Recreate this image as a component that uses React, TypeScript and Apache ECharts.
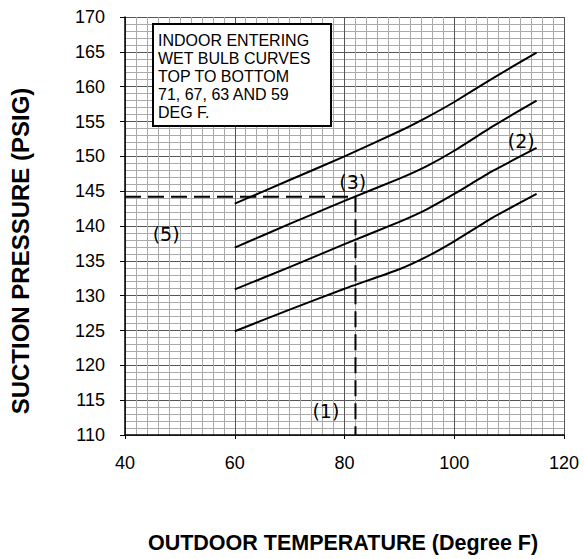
import React, { useEffect, useRef } from "react";
import * as echarts from "echarts";

// Outdoor temperature (deg F) vs suction pressure (psig) for four indoor wet bulb temps
const curveNames = ["71", "67", "63", "59"];
const wb71 = [[60, 143.2], [70, 146.6], [80, 150.0], [90, 153.6], [95, 155.6], [100, 157.8], [107, 161.2], [115, 164.9]];
const wb67 = [[60, 136.9], [70, 140.3], [80, 143.6], [90, 146.8], [95, 148.6], [100, 150.8], [107, 154.3], [115, 158.0]];
const wb63 = [[60, 130.9], [70, 134.1], [80, 137.4], [90, 140.6], [95, 142.4], [100, 144.6], [107, 147.9], [115, 151.2]];
const wb59 = [[60, 124.9], [70, 128.0], [80, 131.0], [90, 133.8], [95, 135.6], [100, 137.8], [107, 141.2], [115, 144.6]];
const curves = [wb71, wb67, wb63, wb59];

const xMin = 40, xMax = 120, xStep = 20;
const yMin = 110, yMax = 170, yStep = 5;

// example reading
const readTemp = 82;
const readPressure = 144.2;

const calloutText = ["(1)", "(2)", "(3)", "(5)"];
const calloutX = [76.6, 112.2, 81.5, 47.5];
const calloutY = [113.5, 152.2, 146.3, 138.8];

const noteLines = ["INDOOR ENTERING", "WET BULB CURVES", "TOP TO BOTTOM", "71, 67, 63 AND 59", "DEG F."];
const xTitle = "OUTDOOR TEMPERATURE (Degree F)";
const yTitle = "SUCTION PRESSURE (PSIG)";

export default function App() {
  const ref = useRef<HTMLDivElement>(null);
  useEffect(() => {
    if (!ref.current) return;
    const chart = echarts.init(ref.current, null, { renderer: "svg" });
    const series: any[] = curves.map((d, i) => ({
      name: curveNames[i],
      type: "line",
      data: d,
      symbol: "none",
      smooth: 0.15,
      lineStyle: { color: "#000", width: 2 },
      z: 5,
    }));
    series.push({
      name: "reading",
      type: "line",
      data: [[xMin, readPressure], [readTemp, readPressure], [readTemp, yMin]],
      symbol: "none",
      lineStyle: { color: "#000", width: 2, type: [16, 7] },
      z: 4,
    });
    series.push({
      name: "callouts",
      type: "scatter",
      symbolSize: 1,
      itemStyle: { opacity: 1, color: "rgba(0,0,0,0)" },
      data: calloutText.map((t, i) => ({ name: t, value: [calloutX[i], calloutY[i]] })),
      label: {
        show: true,
        position: "inside",
        formatter: (p: any) => p.name,
        fontFamily: "DejaVu Sans",
        fontSize: 19,
        color: "#000",
        opacity: 1,
      },
      emphasis: { disabled: true },
      z: 6,
    });
    chart.setOption({
      animation: false,
      backgroundColor: "#fff",
      grid: { left: 125, right: 20, top: 17, bottom: 124, containLabel: false },
      xAxis: {
        type: "value",
        min: xMin,
        max: xMax,
        interval: xStep,
        axisLine: { show: true, lineStyle: { color: "#000", width: 1.5 } },
        axisTick: { show: true, length: 4, lineStyle: { color: "#000" } },
        axisLabel: { fontFamily: "Liberation Sans", fontSize: 18, color: "#000", margin: 19 },
        splitLine: { show: true, lineStyle: { color: "#555", width: 1 } },
        minorTick: { show: false, splitNumber: 10 },
        minorSplitLine: { show: true, lineStyle: { color: "#aaa", width: 1 } },
      },
      yAxis: {
        type: "value",
        min: yMin,
        max: yMax,
        interval: yStep,
        axisLine: { show: true, lineStyle: { color: "#000", width: 1.5 } },
        axisTick: { show: true, length: 5, lineStyle: { color: "#000" } },
        axisLabel: { fontFamily: "Liberation Sans", fontSize: 18, color: "#000", margin: 20 },
        splitLine: { show: true, lineStyle: { color: "#555", width: 1 } },
        minorTick: { show: false, splitNumber: 5 },
        minorSplitLine: { show: true, lineStyle: { color: "#aaa", width: 1 } },
      },
      graphic: [
        {
          type: "rect",
          shape: { x: 153, y: 24, width: 178, height: 102 },
          style: { fill: "#fff", stroke: "#000", lineWidth: 2 },
          z: 10,
        },
        {
          type: "text",
          x: 158,
          y: 31,
          style: {
            text: noteLines.join("\n"),
            font: "16px 'Liberation Sans'",
            lineHeight: 18,
            fill: "#000",
          },
          z: 11,
        },
        {
          type: "text",
          x: 20,
          y: 251,
          rotation: Math.PI / 2,
          style: {
            text: yTitle,
            font: "bold 24px 'Liberation Sans'",
            fill: "#000",
            align: "center",
            verticalAlign: "middle",
          },
        },
        {
          type: "text",
          x: 343,
          y: 543,
          style: {
            text: xTitle,
            font: "bold 21.5px 'Liberation Sans'",
            fill: "#000",
            align: "center",
            verticalAlign: "middle",
          },
        },
      ],
      series,
    });
    return () => chart.dispose();
  }, []);
  return (
    <div
      ref={ref}
      style={{ position: "fixed", left: 0, top: 0, width: 584, height: 559, background: "#fff" }}
    />
  );
}
